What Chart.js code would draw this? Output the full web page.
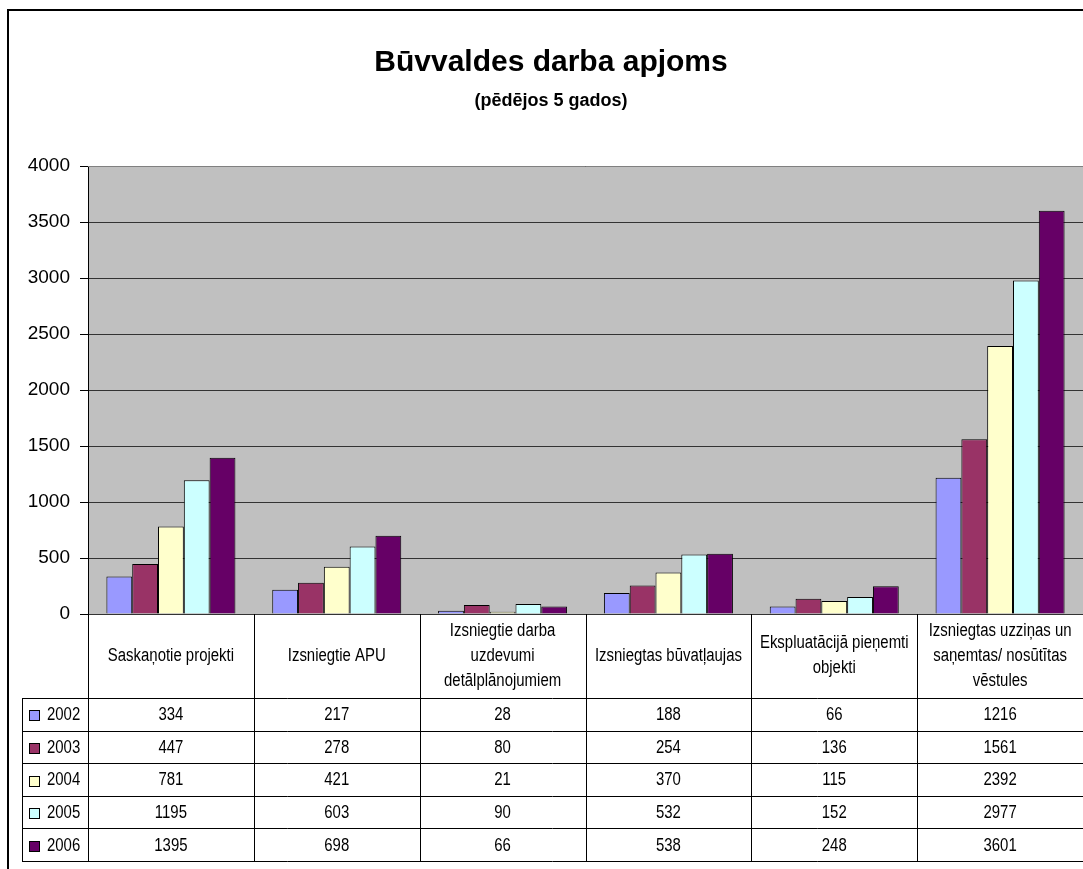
<!DOCTYPE html>
<html>
<head>
<meta charset="utf-8">
<title>Būvvaldes darba apjoms</title>
<script src="https://cdn.jsdelivr.net/npm/chart.js@4.4.1/dist/chart.umd.min.js"></script>
<style>
    body { margin: 0; background: #fff; }
    #wrap { position: relative; width: 1083px; height: 869px; }
</style>
</head>
<body>
<div id="wrap"><canvas id="chart"></canvas></div>
<script>
// Data
const categories = [
    ['Saskaņotie projekti'],
    ['Izsniegtie APU'],
    ['Izsniegtie darba', 'uzdevumi', 'detālplānojumiem'],
    ['Izsniegtas būvatļaujas'],
    ['Ekspluatācijā pieņemti', 'objekti'],
    ['Izsniegtas uzziņas un', 'saņemtas/ nosūtītas', 'vēstules']
];
const years = ['2002', '2003', '2004', '2005', '2006'];
const values2002 = [334, 217, 28, 188, 66, 1216];
const values2003 = [447, 278, 80, 254, 136, 1561];
const values2004 = [781, 421, 21, 370, 115, 2392];
const values2005 = [1195, 603, 90, 532, 152, 2977];
const values2006 = [1395, 698, 66, 538, 248, 3601];
const yTicks = [0, 500, 1000, 1500, 2000, 2500, 3000, 3500, 4000];

const seriesValues = [values2002, values2003, values2004, values2005, values2006];
const seriesColors = ['#9999FF', '#993366', '#FFFFCC', '#CCFFFF', '#660066'];

const FONT = '"Liberation Sans", Arial, sans-serif';
const NARROW = '"Liberation Sans Narrow", "Arial Narrow"';
const TITLE = 'Būvvaldes darba apjoms';
const SUBTITLE = '(pēdējos 5 gados)';

// table rows under the plot (header row + one per year)
const HEADER_BOTTOM = 698;
const ROW_H = 32.6;
const TABLE_LEFT = 22;

// table text is condensed; use the narrow face if present, else squeeze
function setupTableFont(ctx) {
    ctx.font = '18px ' + NARROW + ', "Liberation Sans"';
    const narrowW = ctx.measureText('Saskaņotie projekti').width;
    ctx.font = '18px ' + FONT;
    const normalW = ctx.measureText('Saskaņotie projekti').width;
    if (narrowW < normalW * 0.95) {
        ctx.font = '18px ' + NARROW + ', "Liberation Sans"';
        return 1;
    }
    return 0.83;
}

function tableText(ctx, text, x, y, sx, align) {
    ctx.save();
    ctx.translate(x, y);
    ctx.scale(sx, 1);
    ctx.textAlign = align || 'center';
    ctx.fillText(text, 0, 0);
    ctx.restore();
}

// grey plot background
const plotBg = {
    id: 'plotBg',
    beforeDraw(chart) {
        const { ctx, chartArea: a } = chart;
        ctx.save();
        ctx.fillStyle = '#C0C0C0';
        ctx.fillRect(a.left, a.top, a.right - a.left, a.bottom - a.top);
        ctx.restore();
    }
};

// frame, titles, data table
const extras = {
    id: 'extras',
    afterDraw(chart) {
        const { ctx, chartArea: a } = chart;
        const xs = chart.scales.x;
        const catW = (a.right - a.left) / categories.length;
        ctx.save();

        // outer frame
        ctx.strokeStyle = '#000';
        ctx.lineWidth = 2;
        ctx.beginPath();
        ctx.moveTo(8, 869);
        ctx.lineTo(8, 10);
        ctx.lineTo(1083, 10);
        ctx.stroke();

        // plot top border
        ctx.lineWidth = 1;
        ctx.strokeStyle = '#808080';
        ctx.beginPath();
        ctx.moveTo(a.left, a.top + 0.5);
        ctx.lineTo(a.right, a.top + 0.5);
        ctx.stroke();

        // titles
        ctx.fillStyle = '#000';
        ctx.textAlign = 'center';
        ctx.textBaseline = 'middle';
        ctx.font = 'bold 30px ' + FONT;
        ctx.fillText(TITLE, 551, 63);
        ctx.font = 'bold 18px ' + FONT;
        ctx.fillText(SUBTITLE, 551, 101);

        // table grid
        const tableBottom = HEADER_BOTTOM + ROW_H * years.length;
        ctx.strokeStyle = '#000';
        ctx.lineWidth = 1;
        ctx.beginPath();
        for (let r = 0; r <= years.length; r++) {
            const y = Math.round(HEADER_BOTTOM + ROW_H * r) + 0.5;
            ctx.moveTo(TABLE_LEFT, y);
            ctx.lineTo(a.right, y);
        }
        ctx.moveTo(TABLE_LEFT + 0.5, HEADER_BOTTOM);
        ctx.lineTo(TABLE_LEFT + 0.5, Math.round(tableBottom) + 1);
        for (let i = 0; i < categories.length; i++) {
            const x = Math.round(xs.getPixelForValue(i) - catW / 2) + 0.5;
            ctx.moveTo(x, a.bottom);
            ctx.lineTo(x, Math.round(tableBottom) + 1);
        }
        ctx.stroke();

        // header labels
        const sx = setupTableFont(ctx);
        const headerMid = (a.bottom + HEADER_BOTTOM) / 2;
        categories.forEach((lines, i) => {
            const cx = xs.getPixelForValue(i);
            lines.forEach((line, j) => {
                const y = headerMid + (j - (lines.length - 1) / 2) * 25;
                tableText(ctx, line, cx, y, sx);
            });
        });

        // values and legend keys
        years.forEach((year, r) => {
            const cy = HEADER_BOTTOM + ROW_H * r + ROW_H / 2 + 1;
            ctx.fillStyle = seriesColors[r];
            ctx.fillRect(29.5, Math.round(cy - 5) + 0.5, 10, 10);
            ctx.strokeStyle = '#000';
            ctx.strokeRect(29.5, Math.round(cy - 5) + 0.5, 10, 10);
            ctx.fillStyle = '#000';
            tableText(ctx, year, 47, cy, sx, 'left');
            seriesValues[r].forEach((v, i) => {
                tableText(ctx, String(v), xs.getPixelForValue(i), cy, sx);
            });
        });

        ctx.restore();
    }
};

const ctx = document.getElementById('chart').getContext('2d');
new Chart(ctx, {
    type: 'bar',
    data: {
        labels: categories,
        datasets: years.map((year, i) => ({
            label: year,
            data: seriesValues[i],
            backgroundColor: seriesColors[i],
            borderColor: '#000',
            borderWidth: 1,
            barPercentage: 1,
            categoryPercentage: 0.778
        }))
    },
    options: {
        responsive: true,
        maintainAspectRatio: false,
        animation: false,
        devicePixelRatio: 1,
        layout: {
            padding: { top: 166, bottom: 869 - 614, left: 0, right: 0 }
        },
        plugins: {
            legend: { display: false },
            tooltip: { enabled: false }
        },
        scales: {
            x: { display: false },
            y: {
                min: 0,
                max: 4000,
                afterFit: (scale) => { scale.width = 88; },
                afterBuildTicks: (scale) => {
                    scale.ticks = yTicks.map(v => ({ value: v }));
                },
                ticks: {
                    color: '#000',
                    padding: 10,
                    font: { family: FONT, size: 19 },
                    callback: (v) => String(v)
                },
                grid: {
                    color: '#333',
                    tickColor: '#000',
                    tickLength: 8,
                    lineWidth: 1
                },
                border: { display: true, color: '#000', width: 1 }
            }
        }
    },
    plugins: [plotBg, extras]
});
</script>
</body>
</html>
